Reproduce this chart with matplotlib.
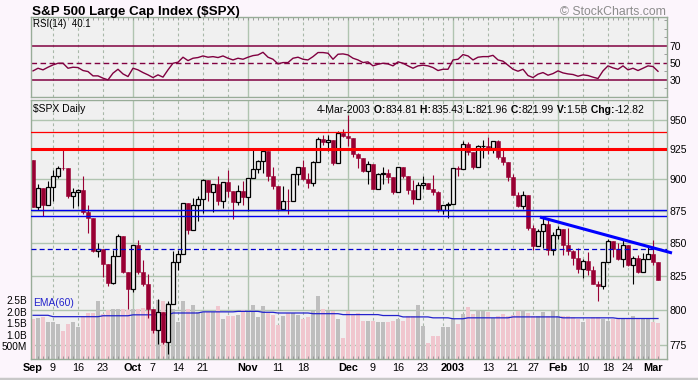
import numpy as np
import matplotlib.pyplot as plt
from matplotlib.ticker import FixedLocator, NullLocator
from matplotlib.lines import Line2D

plt.rcParams['font.family'] = ['Liberation Sans', 'DejaVu Sans']

# one slot per trading day, 3-Sep-2002 .. 4-Mar-2003
first_open = 916.07
closes = [
    878.02, 893.40, 879.15, 893.92,
    902.96, 909.58, 909.45, 886.91, 889.81,
    891.10, 873.52, 869.46, 843.32, 845.39,
    833.70, 819.29, 839.66, 854.95, 827.37,
    815.28,
    847.91, 827.91, 818.95, 800.58,
    785.28, 798.55, 776.76, 803.92, 835.32,
    841.44, 881.27, 860.02, 879.20, 884.39,
    899.72, 890.16, 896.14, 882.50, 897.65,
    890.23, 882.15, 890.71, 885.76,
    900.96,
    908.35, 915.39, 923.76, 902.65, 894.74,
    876.19, 882.95, 882.53, 904.27, 909.83,
    900.36, 896.74, 914.15, 933.76, 930.55,
    932.87, 913.31, 938.87, 936.31,
    934.53, 920.75, 917.58, 906.55, 912.23,
    892.00, 904.45, 904.96, 901.58, 889.48,
    910.40, 902.99, 891.12, 884.25, 895.76,
    897.38, 892.47, 889.66, 875.40,
    879.39, 879.82,
    909.03, 908.59,
    929.01, 922.93, 909.93, 927.57, 927.57,
    926.26, 931.66, 918.22, 914.60, 901.78,
    887.62, 878.36, 887.34, 861.40,
    847.48, 858.54, 864.36, 844.61, 855.70,
    860.32, 848.20, 843.59, 838.15, 829.69,
    835.97, 829.20, 818.68, 817.37, 834.89,
    851.17, 845.13, 837.10, 848.17,
    832.58, 838.57, 827.55, 837.28, 841.15,
    834.81, 821.99,
]
highs = [
    916.07, 896.10, 893.40, 899.07,
    907.34, 911.00, 924.02, 909.45, 892.75,
    891.84, 902.68, 878.97, 869.46, 849.32,
    845.39, 833.70, 844.22, 856.60, 854.95,
    827.37,
    847.93, 851.93, 837.00, 825.90,
    800.58, 807.51, 798.55, 806.51, 843.27,
    844.39, 881.27, 881.27, 885.35, 886.68,
    900.07, 899.72, 896.29, 902.94, 897.71,
    907.44, 890.64, 895.28, 898.49,
    900.96,
    924.58, 915.83, 925.66, 923.76, 909.82,
    894.74, 894.30, 892.51, 904.27, 910.11,
    915.91, 905.45, 915.49, 935.13, 937.15,
    937.15, 932.87, 940.41, 941.82,
    954.28, 934.53, 921.49, 917.58, 915.48,
    912.23, 904.95, 909.94, 908.37, 901.58,
    910.42, 910.40, 902.99, 899.19, 897.79,
    902.42, 897.38, 903.89, 890.46,
    879.50, 881.93,
    909.03, 911.25,
    931.77, 930.81, 922.93, 928.31, 932.37,
    935.05, 931.66, 932.59, 926.03, 914.60,
    904.25, 889.74, 890.25, 887.34,
    863.95, 860.76, 868.72, 867.68, 858.33,
    862.51, 860.32, 861.63, 844.23, 845.63,
    837.16, 843.02, 832.12, 821.25, 834.89,
    852.87, 851.17, 849.37, 852.28,
    848.17, 839.55, 840.10, 842.19, 847.00,
    852.34, 835.43,
]
lows = [
    877.51, 875.73, 870.50, 879.15,
    882.92, 900.76, 907.91, 884.84, 877.05,
    878.91, 872.38, 857.39, 843.09, 839.09,
    824.04, 817.38, 818.46, 839.66, 826.84,
    800.20,
    812.82, 826.50, 817.25, 794.10,
    782.96, 775.80, 775.80, 768.63, 803.92,
    828.85, 841.44, 856.28, 860.02, 866.58,
    873.06, 882.81, 873.82, 879.00, 877.03,
    886.15, 867.91, 879.19, 879.75,
    874.75,
    900.96, 904.91, 905.00, 898.68, 891.84,
    874.63, 876.19, 872.05, 882.53, 895.35,
    899.48, 893.09, 894.93, 914.15, 928.50,
    923.31, 912.10, 913.31, 935.58,
    927.72, 918.73, 909.00, 905.90, 895.96,
    891.97, 892.00, 896.48, 897.00, 888.48,
    889.48, 901.15, 887.82, 880.32, 884.25,
    892.26, 892.29, 887.48, 873.62,
    872.14, 869.45,
    879.82, 903.07,
    908.59, 919.93, 908.32, 909.93, 917.66,
    920.65, 921.72, 916.70, 911.98, 899.02,
    887.56, 877.64, 876.12, 859.71,
    844.25, 847.48, 845.86, 840.34, 840.34,
    852.87, 840.19, 840.10, 833.25, 826.70,
    823.53, 825.09, 818.49, 806.29, 815.03,
    834.89, 838.79, 836.56, 831.48,
    832.16, 818.54, 826.68, 827.55, 837.28,
    832.74, 821.96,
]
# volume, billions of shares
volume = [
    1.75, 1.80, 1.83, 1.63, 1.63, 1.50, 1.20, 1.54, 1.63, 1.37,
    1.88, 2.02, 2.02, 2.53, 1.95, 2.15, 2.17, 2.17, 2.17, 2.15,
    2.17, 2.17, 2.22, 2.10, 2.17, 2.58, 2.50, 2.45, 2.17, 1.60,
    2.50, 2.17, 2.36, 2.03, 2.03, 2.03, 2.03, 2.32, 1.72, 1.89,
    1.89, 1.93, 2.15, 2.05, 2.36, 1.83, 2.29, 2.00, 1.93, 1.46,
    1.86, 2.00, 2.00, 1.93, 1.76, 1.83, 2.10, 2.75, 2.19, 2.10,
    2.07, 1.76, 0.90, 2.07, 1.93, 2.00, 1.65, 1.67, 1.67, 1.60,
    1.60, 1.60, 1.67, 1.73, 1.67, 1.86, 1.86, 2.36, 1.43, 0.70,
    1.00, 1.00, 1.39, 1.39, 1.76, 1.54, 1.95, 2.24, 1.97, 2.12,
    2.07, 2.05, 1.79, 1.85, 1.97, 1.89, 1.93, 2.07, 2.15, 2.00,
    1.89, 1.89, 2.03, 1.89, 2.15, 1.86, 1.89, 1.89, 1.83, 1.72,
    1.60, 1.72, 1.83, 1.83, 1.72, 1.64, 1.72, 1.75, 1.79, 1.72,
    1.89, 1.72, 1.75, 1.72, 1.60, 1.57,
]
# EMA(60) of volume (it moves in small steps)
ema60 = ([1.90] * 4 + [1.84] * 10 + [1.88] * 6 + [1.92] * 8 + [2.00] * 6 +
         [2.05] * 7 + [2.07] * 5 + [2.03] * 3 + [2.00] * 7 + [1.97] * 6 +
         [1.93] * 8 + [1.89] * 4 + [1.83] * 6 + [1.79] * 4 + [1.75] * 3 +
         [1.79] * 9 + [1.83] * 10 + [1.79] * 11 + [1.76] * 9)
rsi = [
    40.6, 43.7, 41.8, 44.9, 47.6, 49.6, 49.6, 43.7, 44.9, 44.5,
    41.0, 39.8, 34.7, 34.7, 32.0, 30.0, 37.9, 42.5, 37.0, 33.9,
    43.7, 41.8, 38.6, 35.9, 32.7, 35.9, 33.2, 41.8, 49.6, 50.8,
    56.7, 52.7, 55.5, 56.3, 58.2, 56.7, 57.4, 56.3, 58.2, 55.5,
    53.5, 55.5, 54.3, 56.7, 58.6, 59.4, 62.5, 56.7, 54.3, 48.8,
    50.4, 50.4, 55.5, 56.7, 54.3, 53.5, 57.4, 62.2, 62.2, 61.4,
    54.3, 60.2, 60.6, 59.4, 55.5, 53.5, 50.4, 51.2, 46.5, 48.4,
    49.6, 48.8, 46.5, 51.2, 49.6, 46.5, 43.7, 46.5, 47.3, 46.5,
    44.5, 41.0, 42.5, 42.5, 53.5, 54.3, 59.8, 58.2, 53.5, 56.7,
    57.4, 57.4, 58.9, 53.5, 52.0, 47.3, 42.5, 40.2, 42.5, 35.1,
    32.7, 36.7, 38.6, 35.5, 37.4, 40.6, 38.2, 37.0, 36.3, 34.3,
    35.9, 35.1, 33.2, 31.6, 40.6, 46.5, 44.1, 42.5, 46.5, 41.8,
    43.7, 41.0, 43.7, 46.5, 45.7, 40.1,
]

tick_pos = [0, 4, 9, 14, 20, 24, 29, 34, 43, 49, 54, 63, 68, 73, 78,
            84, 91, 96, 100, 105, 110, 115, 119, 124]
tick_lab = ['Sep', '9', '16', '23', 'Oct', '7', '14', '21', 'Nov', '11', '18',
            'Dec', '9', '16', '23', '2003', '13', '21', '27', 'Feb', '10',
            '18', '24', 'Mar']
month_lab = ['Sep', 'Oct', 'Nov', 'Dec', '2003', 'Feb', 'Mar']
month_lines = [20, 43, 63, 84, 105, 124]
week_lines = [4, 9, 14, 24, 29, 34, 39, 49, 54, 59, 68, 73, 78, 82, 86,
              91, 96, 100, 110, 115, 119]
price_ticks = [775, 800, 825, 850, 875, 900, 925, 950]
vol_ticks = [0.5, 1.0, 1.5, 2.0, 2.5]
vol_labels = ['500M', '1.0B', '1.5B', '2.0B', '2.5B']

# drawn levels
red_levels = [939.0, 925.3]
blue_levels = [875.3, 870.6]
dash_level = 845.0
trend_x = [101.4, 127.8]
trend_y = [869.8, 842.0]

BG = '#FCF5FC'
PANEL = '#F0F0F0'
GRID = '#B0C4B0'
CANDLE_RED = '#990033'
VOL_PINK = '#F0C6CE'
VOL_GRAY = '#BEBEBE'
RSI_C = '#800040'
EMA_C = '#2222CC'
VMAX = 11.26

W, H = 698, 380
fig = plt.figure(figsize=(W / 100, H / 100), dpi=100, facecolor=BG)


def box(l, t, r, b):
    return [l / W, 1 - b / H, (r - l) / W, (b - t) / H]


ax_r = fig.add_axes(box(31, 17, 667, 97), facecolor=PANEL)
ax = fig.add_axes(box(31, 100, 667, 359), facecolor=PANEL)

n = len(closes)
x = np.arange(n)
c = np.array(closes)
o = np.array([first_open] + closes[:-1])   # each day opens at the prior close
hi = np.array(highs)
lo = np.array(lows)
up = c >= o
b_lo = np.minimum(o, c)
b_hi = np.maximum(o, c)
hi = np.maximum(hi, b_hi)
lo = np.minimum(lo, b_lo)

for a in (ax, ax_r):
    a.set_xlim(-0.4, 126.8)
    for m in month_lines:
        a.axvline(m, color=GRID, lw=1.0, zorder=0.5)
    for w in week_lines:
        a.axvline(w, color='#A8B8A8', lw=0.8, ls=(0, (2.5, 2.5)), zorder=0.5)
    for s in a.spines.values():
        s.set_color('#98AC98')
        s.set_linewidth(1.0)

# ---- price panel
ax.set_yscale('log')
ax.set_ylim(765, 967)
for p in price_ticks:
    ax.axhline(p, color=GRID, lw=1.0, zorder=0.5)

vt = ax.get_xaxis_transform()
vcol = [VOL_GRAY if u else VOL_PINK for u in up]
ax.bar(x, np.array(volume) / VMAX, width=0.8, bottom=0, color=vcol,
       transform=vt, zorder=1)
ax.plot(x, np.array(ema60) / VMAX, color=EMA_C, lw=0.9, transform=vt, zorder=1.5)

ax.vlines(x[up], lo[up], hi[up], color='black', lw=0.8, zorder=2)
ax.vlines(x[~up], lo[~up], hi[~up], color=CANDLE_RED, lw=0.8, zorder=2)
ax.bar(x[up], b_hi[up] - b_lo[up], bottom=b_lo[up], width=0.8,
       facecolor=PANEL, edgecolor='black', lw=0.9, zorder=2.5)
ax.bar(x[~up], b_hi[~up] - b_lo[~up], bottom=b_lo[~up], width=0.8,
       facecolor=CANDLE_RED, edgecolor=CANDLE_RED, lw=0.4, zorder=2.5)

ax.axhline(red_levels[0], color='#FF0000', lw=0.9, zorder=3)
ax.axhline(red_levels[1], color='#FF0000', lw=2.2, zorder=3)
for b in blue_levels:
    ax.axhline(b, color='#0000EE', lw=1.0, zorder=3)
ax.axhline(dash_level, color='#0000CC', lw=0.9, ls=(0, (4, 2.5)), zorder=3)
ax.plot(trend_x, trend_y, color='#0000FF', lw=2.2, zorder=3.5, clip_on=False,
        solid_capstyle='butt')
ax.set_ylim(765, 967)

ax.yaxis.tick_right()
ax.yaxis.set_major_locator(FixedLocator(price_ticks))
ax.yaxis.set_minor_locator(NullLocator())
ax.set_yticklabels([str(p) for p in price_ticks])
ax.tick_params(axis='y', which='major', length=0, pad=2, labelsize=7.5)

ax.set_xticks(tick_pos)
ax.set_xticklabels(tick_lab)
ax.xaxis.set_minor_locator(FixedLocator(x))
ax.tick_params(axis='x', which='major', length=0, pad=3, labelsize=7.8)
ax.tick_params(axis='x', which='minor', direction='in', length=2.5,
               width=0.6, color='#909090')
for t in ax.get_xticklabels():
    if t.get_text() in month_lab:
        t.set_fontweight('bold')

for v, lab in zip(vol_ticks, vol_labels):
    ax.text(-0.006, v / VMAX, lab, transform=ax.transAxes, ha='right',
            va='center', fontsize=7.2)
ax.text(0.003, 2.2 / VMAX, 'EMA(60)', transform=ax.transAxes, color=EMA_C,
        fontsize=7.4, va='bottom', ha='left')

ax.text(0.003, 0.985, '$SPX Daily', transform=ax.transAxes, fontsize=7.5,
        va='top', ha='left')

# last-bar readout, bold field names
pieces = [('4-Mar-2003', 'normal'), (' O:', 'bold'), ('834.81', 'normal'),
          (' H:', 'bold'), ('835.43', 'normal'), (' L:', 'bold'),
          ('821.96', 'normal'), (' C:', 'bold'), ('821.99', 'normal'),
          (' V:', 'bold'), ('1.5B', 'normal'), (' Chg:', 'bold'),
          ('-12.82', 'normal')]
prev = fig.text(317 / W, 1 - 113 / H, pieces[0][0], fontsize=7.5,
                va='baseline', ha='left')
for txt, wt in pieces[1:]:
    prev = ax.annotate(txt, xy=(1, 0), xycoords=prev, va='bottom', ha='left',
                       fontsize=7.5, fontweight=wt)

# ---- RSI panel
ax_r.set_ylim(9.8, 104.1)
ax_r.axhline(70, color=RSI_C, lw=1.1, zorder=1)
ax_r.axhline(30, color=RSI_C, lw=1.1, zorder=1)
ax_r.axhline(50, color=RSI_C, lw=1.0, ls=(0, (4, 2.5)), zorder=1)
ax_r.plot(x, rsi, color=RSI_C, lw=1.0, zorder=2)
ax_r.yaxis.tick_right()
ax_r.set_yticks([30, 50, 70])
ax_r.set_yticklabels(['30', '50', '70'])
ax_r.yaxis.set_minor_locator(FixedLocator(range(10, 101, 10)))
ax_r.tick_params(axis='y', which='major', length=0, pad=2, labelsize=7.5)
ax_r.tick_params(axis='y', which='minor', direction='in', length=2,
                 width=0.6, color='#909090')
ax_r.set_xticks([])
ax_r.xaxis.set_minor_locator(FixedLocator(x))
ax_r.tick_params(axis='x', which='minor', direction='in', length=2,
                 width=0.6, color='#909090', top=True, bottom=False)
ax_r.text(0.003, 0.975, 'RSI(14)  40.1', transform=ax_r.transAxes,
          fontsize=7.0, va='top', ha='left')

fig.text(32 / W, 1 - 15.5 / H, 'S&P 500 Large Cap Index ($SPX)', fontsize=9.6,
         fontweight='bold', va='baseline', ha='left')
fig.text(666 / W, 1 - 15 / H, '\u00a9 StockCharts.com', fontsize=8.8,
         color='#8C8C8C', va='baseline', ha='right')

# thin grey band along the bottom edge of the image
fig.add_artist(Line2D([0, 1], [1.5 / H, 1.5 / H], transform=fig.transFigure,
                      color='#C8C8C8', lw=2.5))

fig.savefig('out.png', dpi=100, facecolor=BG)
